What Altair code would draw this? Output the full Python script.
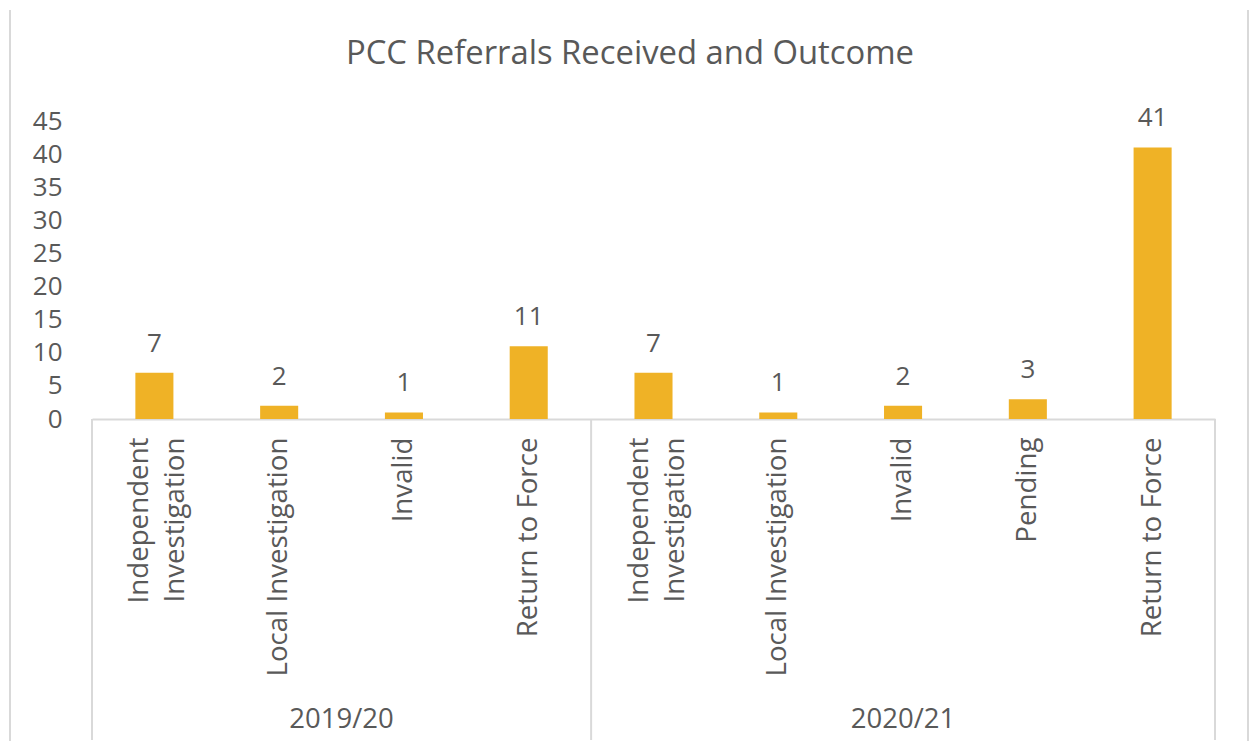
import altair as alt
import pandas as pd

TITLE = "PCC Referrals Received and Outcome"
years = ["2019/20"] * 4 + ["2020/21"] * 5
outcomes = ["Independent|Investigation", "Local Investigation", "Invalid", "Return to Force",
            "Independent|Investigation", "Local Investigation", "Invalid", "Pending", "Return to Force"]
counts = [7, 2, 1, 11, 7, 1, 2, 3, 41]
y_ticks = list(range(0, 50, 5))
group_names = ["2019/20", "2020/21"]

keys = [f"{o}@{y}" for o, y in zip(outcomes, years)]
df = pd.DataFrame({"key": keys, "outcome": outcomes, "year": years, "count": counts})

# group label anchors: centre of each group
grp1 = pd.DataFrame({"key": [keys[1]], "name": [group_names[0]]})   # right edge of 2nd of 4
grp2 = pd.DataFrame({"key": [keys[6]], "name": [group_names[1]]})   # middle of 3rd of 5
sep_left = pd.DataFrame({"key": [keys[0], keys[4]]})
sep_right = pd.DataFrame({"key": [keys[-1]]})
one = pd.DataFrame({"t": [TITLE]})

W, H = 1123, 298
FONT = "Open Sans"
GREY = "#595959"
LINE = "#D9D9D9"
BAR = "#EFB226"

x_scale = alt.Scale(domain=keys, paddingInner=0, paddingOuter=0)
y_scale = alt.Scale(domain=[0, 45], nice=False)

x_axis = alt.Axis(
    title=None, labelAngle=-90, labelAlign="right", labelBaseline="middle",
    labelExpr="split(slice(datum.label, 0, indexof(datum.label, '@')), '|')",
    labelOffset=alt.condition("indexof(datum.label, '|') >= 0", alt.value(-14), alt.value(0)),
    labelFont=FONT, labelFontSize=27.7, labelColor=GREY, labelPadding=18,
    labelLineHeight=36, labelLimit=500, ticks=False, domainColor=LINE,
    domainWidth=2, grid=False, labelOverlap=False,
)
y_axis = alt.Axis(
    title=None, values=y_ticks, domain=False, ticks=False, grid=False,
    labelFont=FONT, labelFontSize=26, labelColor=GREY, labelPadding=30,
)

X = lambda bp=0.5: alt.X("key:N", scale=x_scale, axis=x_axis, sort=keys, bandPosition=bp)

bars = alt.Chart(df).mark_bar(color=BAR, width=alt.RelativeBandSize(0.305)).encode(
    x=X(), y=alt.Y("count:Q", scale=y_scale, axis=y_axis)
)
values = alt.Chart(df).mark_text(
    font=FONT, fontSize=26, color=GREY, baseline="alphabetic", dy=-21
).encode(x=X(), y=alt.Y("count:Q", scale=y_scale, axis=y_axis), text="count:Q")

sepL = alt.Chart(sep_left).mark_rule(color=LINE, strokeWidth=2).encode(
    x=X(0), y=alt.value(H), y2=alt.value(H + 321))
sepR = alt.Chart(sep_right).mark_rule(color=LINE, strokeWidth=2).encode(
    x=X(1), y=alt.value(H), y2=alt.value(H + 321))

g1 = alt.Chart(grp1).mark_text(font=FONT, fontSize=27.5, color=GREY, baseline="middle").encode(
    x=X(1), y=alt.value(H + 301), text="name:N")
g2 = alt.Chart(grp2).mark_text(font=FONT, fontSize=27.5, color=GREY, baseline="middle").encode(
    x=X(0.5), y=alt.value(H + 301), text="name:N")

title = alt.Chart(one).mark_text(
    font=FONT, fontSize=32.8, color=GREY, align="center", baseline="alphabetic"
).encode(x=alt.value(538), y=alt.value(-57), text="t:N")

frameL = alt.Chart(one).mark_rule(color=LINE, strokeWidth=2).encode(
    x=alt.value(-82), y=alt.value(-111), y2=alt.value(640))
frameR = alt.Chart(one).mark_rule(color=LINE, strokeWidth=2).encode(
    x=alt.value(1156), y=alt.value(-111), y2=alt.value(640))

chart = alt.layer(frameL, frameR, sepL, sepR, bars, values, g1, g2, title).properties(
    width=W, height=H,
    autosize=alt.AutoSizeParams(type="none"),
    padding={"left": 84, "top": 113, "right": 34, "bottom": 322},
).configure(background="white", view=alt.ViewConfig(strokeWidth=0, stroke="transparent"))

chart.save("out.html", embed_options={"renderer": "svg", "actions": False})
